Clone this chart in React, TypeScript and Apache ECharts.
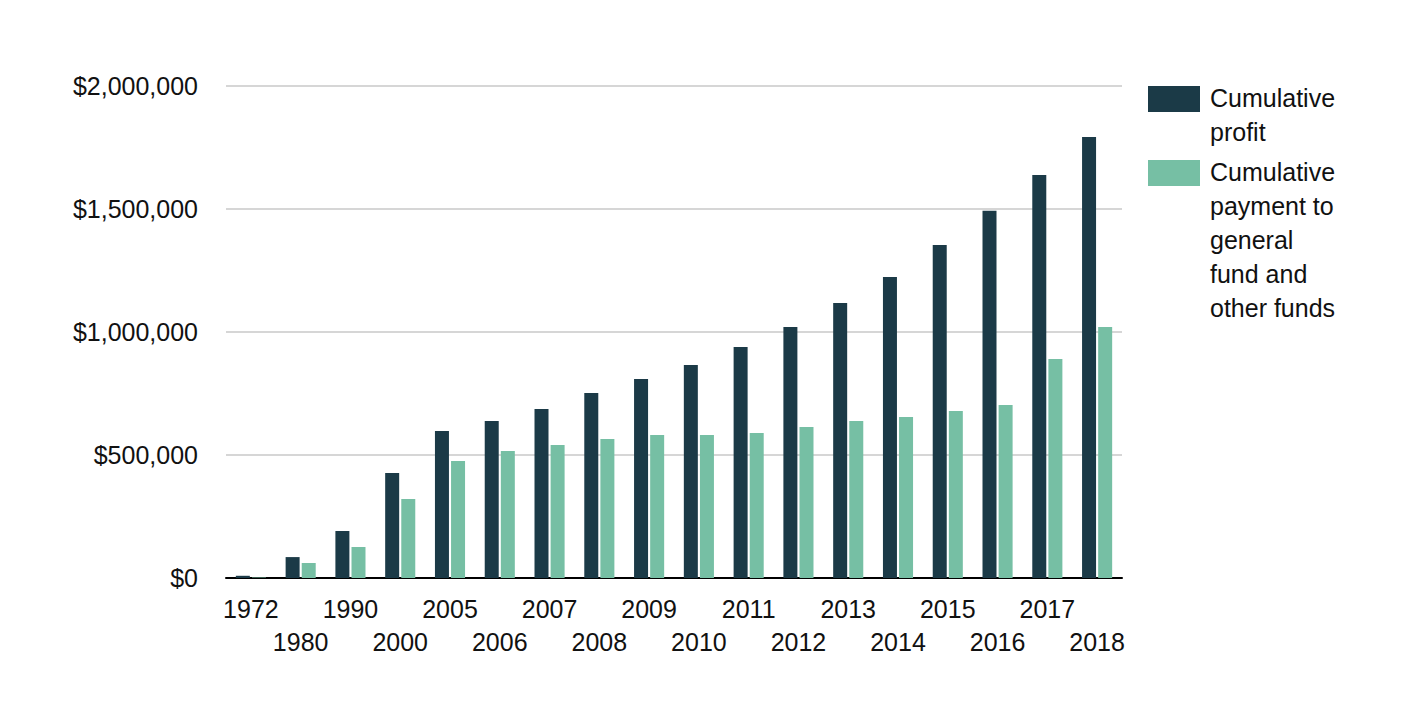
import React, { useEffect, useRef } from "react";
import * as echarts from "echarts";

const categories = ["1972", "1980", "1990", "2000", "2005", "2006", "2007", "2008", "2009", "2010", "2011", "2012", "2013", "2014", "2015", "2016", "2017", "2018"];
const cumulativeProfit = [9000, 85000, 191000, 427000, 598000, 638000, 687000, 752000, 809000, 866000, 939000, 1020000, 1118000, 1224000, 1354000, 1493000, 1638000, 1793000];
const cumulativePayment = [2000, 61000, 126000, 321000, 476000, 516000, 541000, 565000, 581000, 581000, 589000, 614000, 638000, 654000, 679000, 703000, 890000, 1020000];
const seriesNames = ["Cumulative profit", "Cumulative payment to general fund and other funds"];
const legendLines = [["Cumulative", "profit"], ["Cumulative", "payment to", "general", "fund and", "other funds"]];
const colors = ["#1b3a47", "#76bfa4"];
const FONT = "'Liberation Sans', Arial, Helvetica, sans-serif";

export default function App() {
  const ref = useRef<HTMLDivElement>(null);
  useEffect(() => {
    if (!ref.current) return;
    const chart = echarts.init(ref.current, undefined, { renderer: "svg" });
    const legendGraphics: any[] = [];
    const tops = [86, 160];
    legendLines.forEach((lines, i) => {
      legendGraphics.push({
        type: "rect",
        shape: { x: 1148, y: tops[i], width: 52, height: 26 },
        style: { fill: colors[i] },
      });
      legendGraphics.push({
        type: "text",
        x: 1210,
        y: tops[i] - 5,
        style: {
          text: lines.join("\n"),
          font: `25px ${FONT}`,
          lineHeight: 34,
          fill: "#111",
          verticalAlign: "top",
        },
      });
    });
    chart.setOption({
      animation: false,
      textStyle: { fontFamily: FONT },
      grid: { left: 226, right: 302, top: 86, bottom: 134 },
      xAxis: {
        type: "category",
        data: categories,
        axisLine: { lineStyle: { color: "#000", width: 2 } },
        axisTick: { show: false },
        axisLabel: {
          interval: 0,
          fontSize: 25,
          lineHeight: 33,
          margin: 14,
          color: "#111",
          formatter: (v: string, idx: number) => (idx % 2 === 1 ? "\n" + v : v),
        },
      },
      yAxis: {
        type: "value",
        min: 0,
        max: 2000000,
        interval: 500000,
        axisLine: { show: false },
        axisTick: { show: false },
        splitLine: { lineStyle: { color: "#c8c8c8", width: 1.5 } },
        axisLabel: {
          fontSize: 25,
          margin: 28,
          color: "#111",
          formatter: (v: number) => "$" + v.toLocaleString("en-US"),
        },
      },
      series: [
        {
          name: seriesNames[0],
          type: "bar",
          data: cumulativeProfit,
          itemStyle: { color: colors[0] },
          barWidth: 14,
          barGap: "15%",
        },
        {
          name: seriesNames[1],
          type: "bar",
          data: cumulativePayment,
          itemStyle: { color: colors[1] },
          barWidth: 14,
          barGap: "15%",
        },
      ],
      graphic: legendGraphics,
    });
    return () => chart.dispose();
  }, []);
  return <div ref={ref} style={{ position: "fixed", left: 0, top: 0, width: 1424, height: 712, background: "#fff" }} />;
}
